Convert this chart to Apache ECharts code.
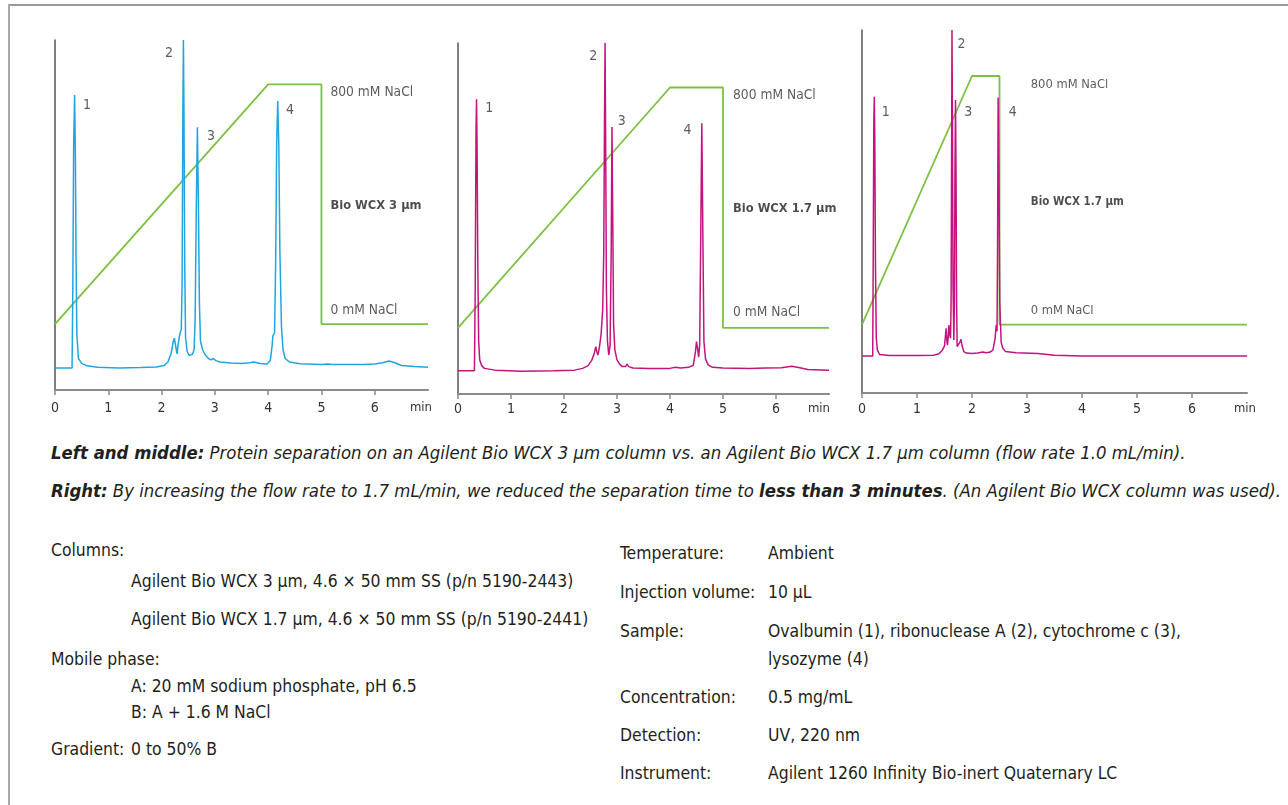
<!DOCTYPE html>
<html>
<head>
<meta charset="utf-8">
<script src="https://cdn.jsdelivr.net/npm/echarts@6/dist/echarts.min.js"></script>
<style>
  html, body { margin: 0; padding: 0; background: #fff; }
  body { width: 1288px; height: 805px; position: relative; overflow: hidden;
         font-family: "Liberation Sans Narrow", "DejaVu Sans Condensed", "Roboto Condensed", Roboto, sans-serif;
         color: #231f20; }
  .frame-top { position: absolute; left: 9px; top: 4px; width: 1279px; height: 2px; background: #9a9a9a; }
  .frame-left { position: absolute; left: 8px; top: 4px; width: 2px; height: 801px; background: #a8a8a8; }
  #chart { position: absolute; left: 0; top: 0; width: 1288px; height: 430px; }
  .t { position: absolute; white-space: nowrap; font-size: 17.4px; line-height: 20px; }
  .cap { position: absolute; left: 51px; white-space: nowrap; font-size: 18.4px; line-height: 20px; font-style: italic; }
  .cap b { font-weight: bold; }
</style>
</head>
<body>
<div class="frame-top"></div>
<div class="frame-left"></div>
<div id="chart"></div>

<div class="cap" style="top:443px"><b>Left and middle:</b> Protein separation on an Agilent Bio WCX 3 µm column vs. an Agilent Bio WCX 1.7 µm column (flow rate 1.0 mL/min).</div>
<div class="cap" style="top:481px"><b>Right:</b> By increasing the flow rate to 1.7 mL/min, we reduced the separation time to <b>less than 3 minutes</b>. (An Agilent Bio WCX column was used).</div>

<div class="t" style="left:51px;top:540px">Columns:</div>
<div class="t" style="left:131px;top:571px">Agilent Bio WCX 3 µm, 4.6 × 50 mm SS (p/n 5190-2443)</div>
<div class="t" style="left:131px;top:609px">Agilent Bio WCX 1.7 µm, 4.6 × 50 mm SS (p/n 5190-2441)</div>
<div class="t" style="left:51px;top:649px">Mobile phase:</div>
<div class="t" style="left:131px;top:676px">A: 20 mM sodium phosphate, pH 6.5</div>
<div class="t" style="left:131px;top:702px">B: A + 1.6 M NaCl</div>
<div class="t" style="left:51px;top:739px">Gradient:</div>
<div class="t" style="left:131px;top:739px">0 to 50% B</div>

<div class="t" style="left:620px;top:543px">Temperature:</div>
<div class="t" style="left:768px;top:543px">Ambient</div>
<div class="t" style="left:620px;top:582px">Injection volume:</div>
<div class="t" style="left:768px;top:582px">10 µL</div>
<div class="t" style="left:620px;top:621px">Sample:</div>
<div class="t" style="left:768px;top:621px">Ovalbumin (1), ribonuclease A (2), cytochrome c (3),</div>
<div class="t" style="left:768px;top:649px">lysozyme (4)</div>
<div class="t" style="left:620px;top:687px">Concentration:</div>
<div class="t" style="left:768px;top:687px">0.5 mg/mL</div>
<div class="t" style="left:620px;top:725px">Detection:</div>
<div class="t" style="left:768px;top:725px">UV, 220 nm</div>
<div class="t" style="left:620px;top:763px">Instrument:</div>
<div class="t" style="left:768px;top:763px">Agilent 1260 Infinity Bio-inert Quaternary LC</div>

<script>
// x axis ticks (min)
var timeTicks = [0, 1, 2, 3, 4, 5, 6];
var timeLabels = [0, 1, 2, 3, 4, 5, 6, 7];

// Bio WCX 3 um, 1.0 mL/min  [time (min), signal]
var trace3um = [
  [0, 6.3], [0.32, 6.3], [0.335, 30], [0.35, 70], [0.368, 84.3], [0.382, 68], [0.395, 38], [0.41, 16],
  [0.44, 9.0], [0.5, 7.6], [0.6, 6.9], [0.8, 6.5], [1.2, 6.3], [1.6, 6.4], [1.9, 6.6], [2.05, 7.0],
  [2.12, 8.0], [2.18, 10.5], [2.22, 14.0], [2.24, 14.8], [2.26, 13.0], [2.29, 10.3], [2.32, 14.0],
  [2.35, 16.5], [2.37, 17.2], [2.385, 30], [2.40, 80], [2.41, 100], [2.42, 80], [2.435, 35],
  [2.45, 15], [2.48, 11], [2.52, 9.9], [2.55, 9.7], [2.58, 10.2], [2.61, 11.5], [2.63, 20],
  [2.65, 50], [2.672, 75.1], [2.69, 55], [2.71, 25], [2.73, 14], [2.77, 11.5], [2.82, 10.0],
  [2.88, 9.0], [2.93, 8.6], [2.97, 9.0], [3.02, 8.4], [3.1, 8.0], [3.3, 7.7], [3.5, 7.6],
  [3.65, 7.8], [3.73, 8.0], [3.85, 7.6], [3.98, 7.4], [4.04, 8.4], [4.07, 12], [4.09, 15.5],
  [4.12, 16.3], [4.14, 35], [4.16, 70], [4.18, 82.6], [4.20, 70], [4.22, 40], [4.25, 18],
  [4.28, 11.5], [4.32, 9.0], [4.4, 8.0], [4.6, 7.5], [5.0, 7.3], [5.12, 7.4], [5.15, 7.6],
  [5.2, 7.3], [5.8, 7.3], [6.0, 7.4], [6.15, 7.8], [6.27, 8.3], [6.38, 7.8], [6.5, 7.0],
  [6.75, 6.7], [7.0, 6.5]
];

// Bio WCX 1.7 um, 1.0 mL/min
var trace17um = [
  [0, 6.6], [0.31, 6.6], [0.325, 30], [0.34, 75], [0.35, 84.0], [0.36, 70], [0.375, 35], [0.39, 15],
  [0.41, 9.7], [0.45, 8.0], [0.5, 7.3], [0.7, 6.8], [1.2, 6.5], [1.8, 6.6], [2.2, 6.8], [2.35, 7.3],
  [2.45, 8.0], [2.52, 9.5], [2.57, 11.5], [2.60, 13.5], [2.62, 12], [2.64, 11.1], [2.67, 13.5],
  [2.70, 17.0], [2.73, 24], [2.75, 40], [2.765, 80], [2.775, 100], [2.785, 75], [2.80, 30],
  [2.82, 15], [2.845, 11.1], [2.87, 14], [2.89, 40], [2.905, 76.1], [2.92, 50], [2.935, 20],
  [2.96, 12.5], [3.0, 9.7], [3.05, 8.5], [3.1, 7.8], [3.16, 7.8], [3.19, 8.5], [3.22, 7.8],
  [3.3, 7.4], [3.6, 7.3], [4.0, 7.3], [4.1, 7.6], [4.2, 7.4], [4.35, 7.6], [4.44, 8.2], [4.48, 12],
  [4.50, 14.9], [4.52, 13], [4.54, 10.5], [4.56, 14], [4.58, 45], [4.60, 77.1], [4.62, 45],
  [4.64, 15], [4.67, 10], [4.72, 8.3], [4.8, 7.6], [5.0, 7.4], [5.5, 7.3], [5.8, 7.4], [6.1, 7.5],
  [6.3, 7.9], [6.45, 7.5], [6.6, 7.0], [7.0, 6.8]
];

// Bio WCX 1.7 um, 1.7 mL/min
var traceFast = [
  [0, 10.2], [0.195, 10.2], [0.205, 40], [0.215, 75], [0.224, 81.6], [0.233, 70], [0.245, 35],
  [0.26, 15], [0.28, 11.8], [0.32, 10.6], [0.5, 10.3], [1.0, 10.3], [1.3, 10.4], [1.4, 10.8],
  [1.46, 11.8], [1.5, 13.0], [1.53, 17.8], [1.545, 14], [1.555, 13.2], [1.57, 16], [1.58, 18.7],
  [1.595, 16], [1.61, 15.1], [1.62, 25], [1.63, 70], [1.636, 100], [1.645, 75], [1.655, 30],
  [1.67, 14.6], [1.68, 25], [1.69, 60], [1.70, 80.7], [1.71, 60], [1.72, 25], [1.73, 12.8],
  [1.76, 12.5], [1.78, 14], [1.80, 14.8], [1.82, 13], [1.85, 11.4], [1.9, 11.0], [2.0, 10.9],
  [2.1, 11.0], [2.2, 11.3], [2.25, 11.1], [2.32, 11.2], [2.38, 11.8], [2.42, 15], [2.44, 18.7],
  [2.455, 17], [2.465, 40], [2.475, 81.4], [2.49, 60], [2.505, 25], [2.53, 14], [2.56, 12.3],
  [2.61, 11.4], [2.8, 11.1], [3.2, 10.9], [3.5, 10.4], [4.0, 10.2], [7.0, 10.2]
];

// NaCl gradient  [time (min), mM]
var gradSlow = [[0, 0], [4, 800], [5, 800], [5, 0], [7, 0]];
var gradFast = [[0, 0], [2, 800], [2.5, 800], [2.5, 0], [7, 0]];

// peak numbers [time, signal, text]
var tags3um  = [[0.60, 81.4, '1'], [2.14, 96.3, '2'], [2.93, 72.6, '3'], [4.41, 80.0, '4']];
var tags17um = [[0.59, 81.5, '1'], [2.55, 96.3, '2'], [3.09, 77.8, '3'], [4.33, 75.2, '4']];
var tagsFast = [[0.43, 77.4, '1'], [1.81, 96.1, '2'], [1.93, 77.4, '3'], [2.74, 77.4, '4']];

// side notes [time, signal, text]
var notes3um  = [[5.16, 85.1, '800 mM NaCl'], [5.16, 52.6, '{b|Bio WCX 3 µm}'], [5.16, 22.6, '0 mM NaCl']];
var notes17um = [[5.18, 85.2, '800 mM NaCl'], [5.18, 52.7, '{b|Bio WCX 1.7 µm}'], [5.18, 23.1, '0 mM NaCl']];
var notesFast = [[3.06, 84.8, '800 mM NaCl'], [3.06, 52.6, '{b|Bio WCX 1.7 µm}'], [3.06, 22.6, '0 mM NaCl']];

var FONT = '"Liberation Sans Narrow", "DejaVu Sans Condensed", "Roboto Condensed", Roboto, sans-serif';
var panels = [
  { trace: trace3um,  grad: gradSlow, tags: tags3um,  notes: notes3um,  color: '#1fa6e0',
    grid: { left: 55, top: 40, width: 373, height: 350 }, labelMargin: 11, minShift: 14, fs: 13.7, bfs: 12.8 },
  { trace: trace17um, grad: gradSlow, tags: tags17um, notes: notes17um, color: '#c4137f',
    grid: { left: 458, top: 43, width: 371, height: 351 }, labelMargin: 8, minShift: 20, fs: 13.7, bfs: 12.8 },
  { trace: traceFast, grad: gradFast, tags: tagsFast, notes: notesFast, color: '#c4137f',
    grid: { left: 862, top: 30, width: 385, height: 363 }, labelMargin: 9, minShift: 4, fs: 12.8, bfs: 11.5 }
];

var chart = echarts.init(document.getElementById('chart'));
var grids = [], xAxes = [], yAxes = [], series = [];

panels.forEach(function (p, i) {
  grids.push(p.grid);
  xAxes.push({
    gridIndex: i, type: 'value', min: 0, max: 7,
    axisLine: { show: true, lineStyle: { color: '#8a8a8a', width: 2 } },
    axisTick: { show: true, customValues: timeTicks, length: 5, lineStyle: { color: '#8a8a8a', width: 1.5 } },
    axisLabel: {
      customValues: timeLabels, margin: p.labelMargin, fontSize: 14, color: '#333', fontFamily: FONT,
      formatter: function (v) { return v === 7 ? '{u|min}' : String(v); },
      rich: { u: { fontSize: 13, color: '#333', fontFamily: FONT, padding: [0, p.minShift, 0, 0] } }
    },
    splitLine: { show: false }
  });
  // signal axis
  yAxes.push({
    gridIndex: i, type: 'value', min: 0, max: 100,
    axisLine: { show: true, onZero: false, lineStyle: { color: '#555', width: 1.5 } },
    axisTick: { show: false }, axisLabel: { show: false }, splitLine: { show: false }
  });
  // NaCl axis (hidden)
  yAxes.push({
    gridIndex: i, type: 'value', min: -220, max: 948, show: false, splitLine: { show: false }
  });

  series.push({
    type: 'line', xAxisIndex: i, yAxisIndex: 2 * i, data: p.trace,
    showSymbol: false, symbol: 'none', lineStyle: { color: p.color, width: 1.5 }, z: 3
  });
  series.push({
    type: 'line', xAxisIndex: i, yAxisIndex: 2 * i + 1, data: p.grad,
    showSymbol: false, symbol: 'none', lineStyle: { color: '#7cc142', width: 1.8 }, z: 2
  });
  series.push({
    type: 'scatter', xAxisIndex: i, yAxisIndex: 2 * i, symbolSize: 1,
    itemStyle: { color: 'rgba(0,0,0,0)' },
    data: p.tags.map(function (d) { return { value: [d[0], d[1]], name: d[2] }; }),
    label: { show: true, position: 'inside', formatter: '{b}', fontSize: 14, color: '#333', fontFamily: FONT },
    z: 4
  });
  series.push({
    type: 'scatter', xAxisIndex: i, yAxisIndex: 2 * i, symbolSize: 1, clip: false,
    itemStyle: { color: 'rgba(0,0,0,0)' },
    data: p.notes.map(function (d) { return { value: [d[0], d[1]], name: d[2] }; }),
    label: {
      show: true, position: 'right', distance: 0, formatter: '{b}', fontSize: p.fs, color: '#333', fontFamily: FONT,
      rich: { b: { fontSize: p.bfs, fontWeight: 'bold', color: '#231f20', fontFamily: FONT } }
    },
    z: 4
  });
});

chart.setOption({
  animation: false,
  grid: grids,
  xAxis: xAxes,
  yAxis: yAxes,
  series: series
});
</script>
</body>
</html>
